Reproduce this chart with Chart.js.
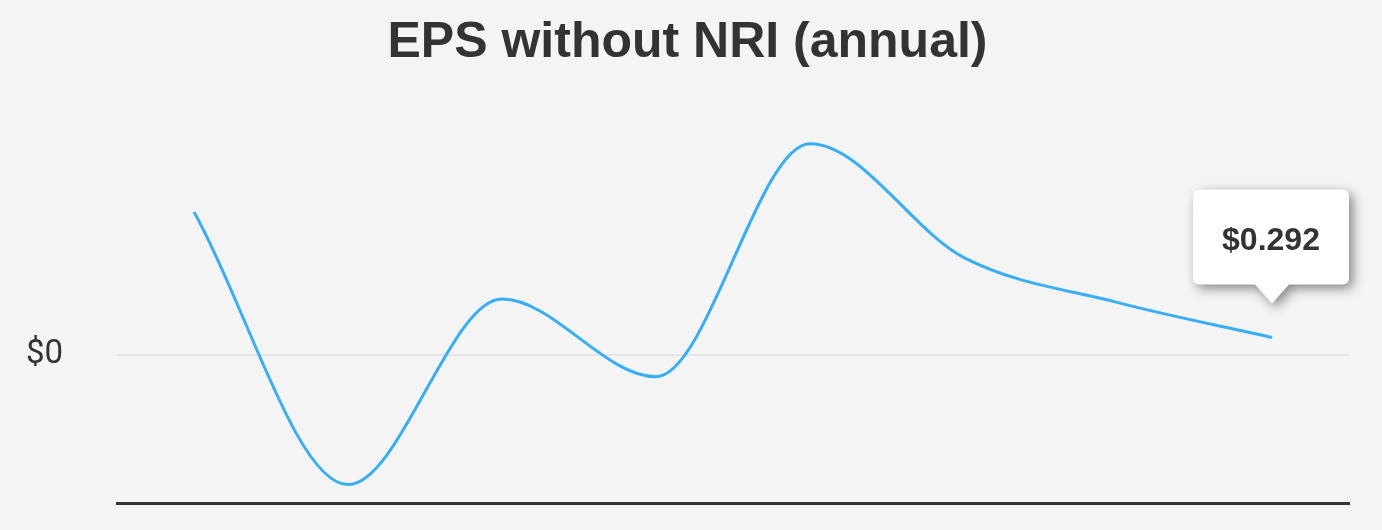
<!DOCTYPE html>
<html>
<head>
<meta charset="utf-8">
<script src="https://cdn.jsdelivr.net/npm/chart.js@4/dist/chart.umd.min.js"></script>
<style>
  html, body { margin: 0; padding: 0; background: #f4f4f4; }
  canvas { display: block; }
</style>
</head>
<body>
<canvas id="chart" width="1382" height="530"></canvas>
<script>
// annual periods (no axis labels are shown in the picture)
var periods = ['P1', 'P2', 'P3', 'P4', 'P5', 'P6', 'P7', 'P8'];
// EPS without NRI
var epsValues = [2.41, -2.19, 0.94, -0.37, 3.56, 1.64, 0.88, 0.292];
var yTicks = [0];
var yMin = -2.5;
var yMax = 4.5;

var lineColor = '#38aef7';

// tooltip-like callout on the latest value
var calloutPlugin = {
    id: 'callout',
    afterDatasetsDraw: function (chart) {
        var meta = chart.getDatasetMeta(0);
        var last = meta.data[meta.data.length - 1];
        var value = epsValues[epsValues.length - 1];
        var ctx = chart.ctx;
        var w = 156, h = 95, r = 7, caretH = 19, caretW = 17;
        var tipY = last.y - 34;
        var bottom = tipY - caretH;
        var top = bottom - h;
        var cx = last.x - 1;
        var left = cx - w / 2;
        ctx.save();
        ctx.shadowColor = 'rgba(0,0,0,0.45)';
        ctx.shadowBlur = 12;
        ctx.shadowOffsetX = 4;
        ctx.shadowOffsetY = 4;
        ctx.fillStyle = '#ffffff';
        ctx.beginPath();
        ctx.moveTo(left + r, top);
        ctx.lineTo(left + w - r, top);
        ctx.quadraticCurveTo(left + w, top, left + w, top + r);
        ctx.lineTo(left + w, bottom - r);
        ctx.quadraticCurveTo(left + w, bottom, left + w - r, bottom);
        ctx.lineTo(last.x + caretW, bottom);
        ctx.lineTo(last.x, tipY);
        ctx.lineTo(last.x - caretW, bottom);
        ctx.lineTo(left + r, bottom);
        ctx.quadraticCurveTo(left, bottom, left, bottom - r);
        ctx.lineTo(left, top + r);
        ctx.quadraticCurveTo(left, top, left + r, top);
        ctx.closePath();
        ctx.fill();
        ctx.restore();

        ctx.save();
        ctx.fillStyle = '#333333';
        ctx.font = 'bold 32px "Liberation Sans", Arial, sans-serif';
        ctx.textAlign = 'center';
        ctx.textBaseline = 'middle';
        ctx.fillText('$' + value.toFixed(3), cx, top + h / 2 + 4);
        ctx.restore();
    }
};

var ctx = document.getElementById('chart').getContext('2d');
var chart = new Chart(ctx, {
    type: 'line',
    data: {
        labels: periods,
        datasets: [{
            data: epsValues,
            borderColor: lineColor,
            borderWidth: 3,
            pointRadius: 0,
            pointHoverRadius: 0,
            fill: false,
            cubicInterpolationMode: 'monotone'
        }]
    },
    options: {
        responsive: false,
        animation: false,
        events: [],
        layout: { padding: { left: 26, right: 33, top: 0, bottom: 0 } },
        plugins: {
            legend: { display: false },
            tooltip: { enabled: false },
            title: {
                display: true,
                text: 'EPS without NRI (annual)',
                color: '#333333',
                font: { family: '"Liberation Sans", Arial, sans-serif', size: 50, weight: 'bold', lineHeight: 1.2 },
                padding: { top: 13, bottom: 15 }
            }
        },
        scales: {
            x: {
                offset: true,
                grid: { display: false },
                ticks: { display: false },
                border: { display: true, color: '#363636', width: 3 },
                afterFit: function (scale) { scale.height = 27; }
            },
            y: {
                min: yMin,
                max: yMax,
                afterBuildTicks: function (scale) {
                    scale.ticks = yTicks.map(function (v) { return { value: v }; });
                },
                afterFit: function (scale) { scale.width = 91; },
                grid: { color: '#e4e4e4', lineWidth: 2, drawTicks: false },
                border: { display: false },
                ticks: {
                    padding: 0,
                    crossAlign: 'far',
                    color: '#333333',
                    font: { family: 'Roboto, sans-serif', size: 33 },
                    callback: function (v) { return '$' + v; }
                }
            }
        }
    },
    plugins: [calloutPlugin]
});
</script>
</body>
</html>
